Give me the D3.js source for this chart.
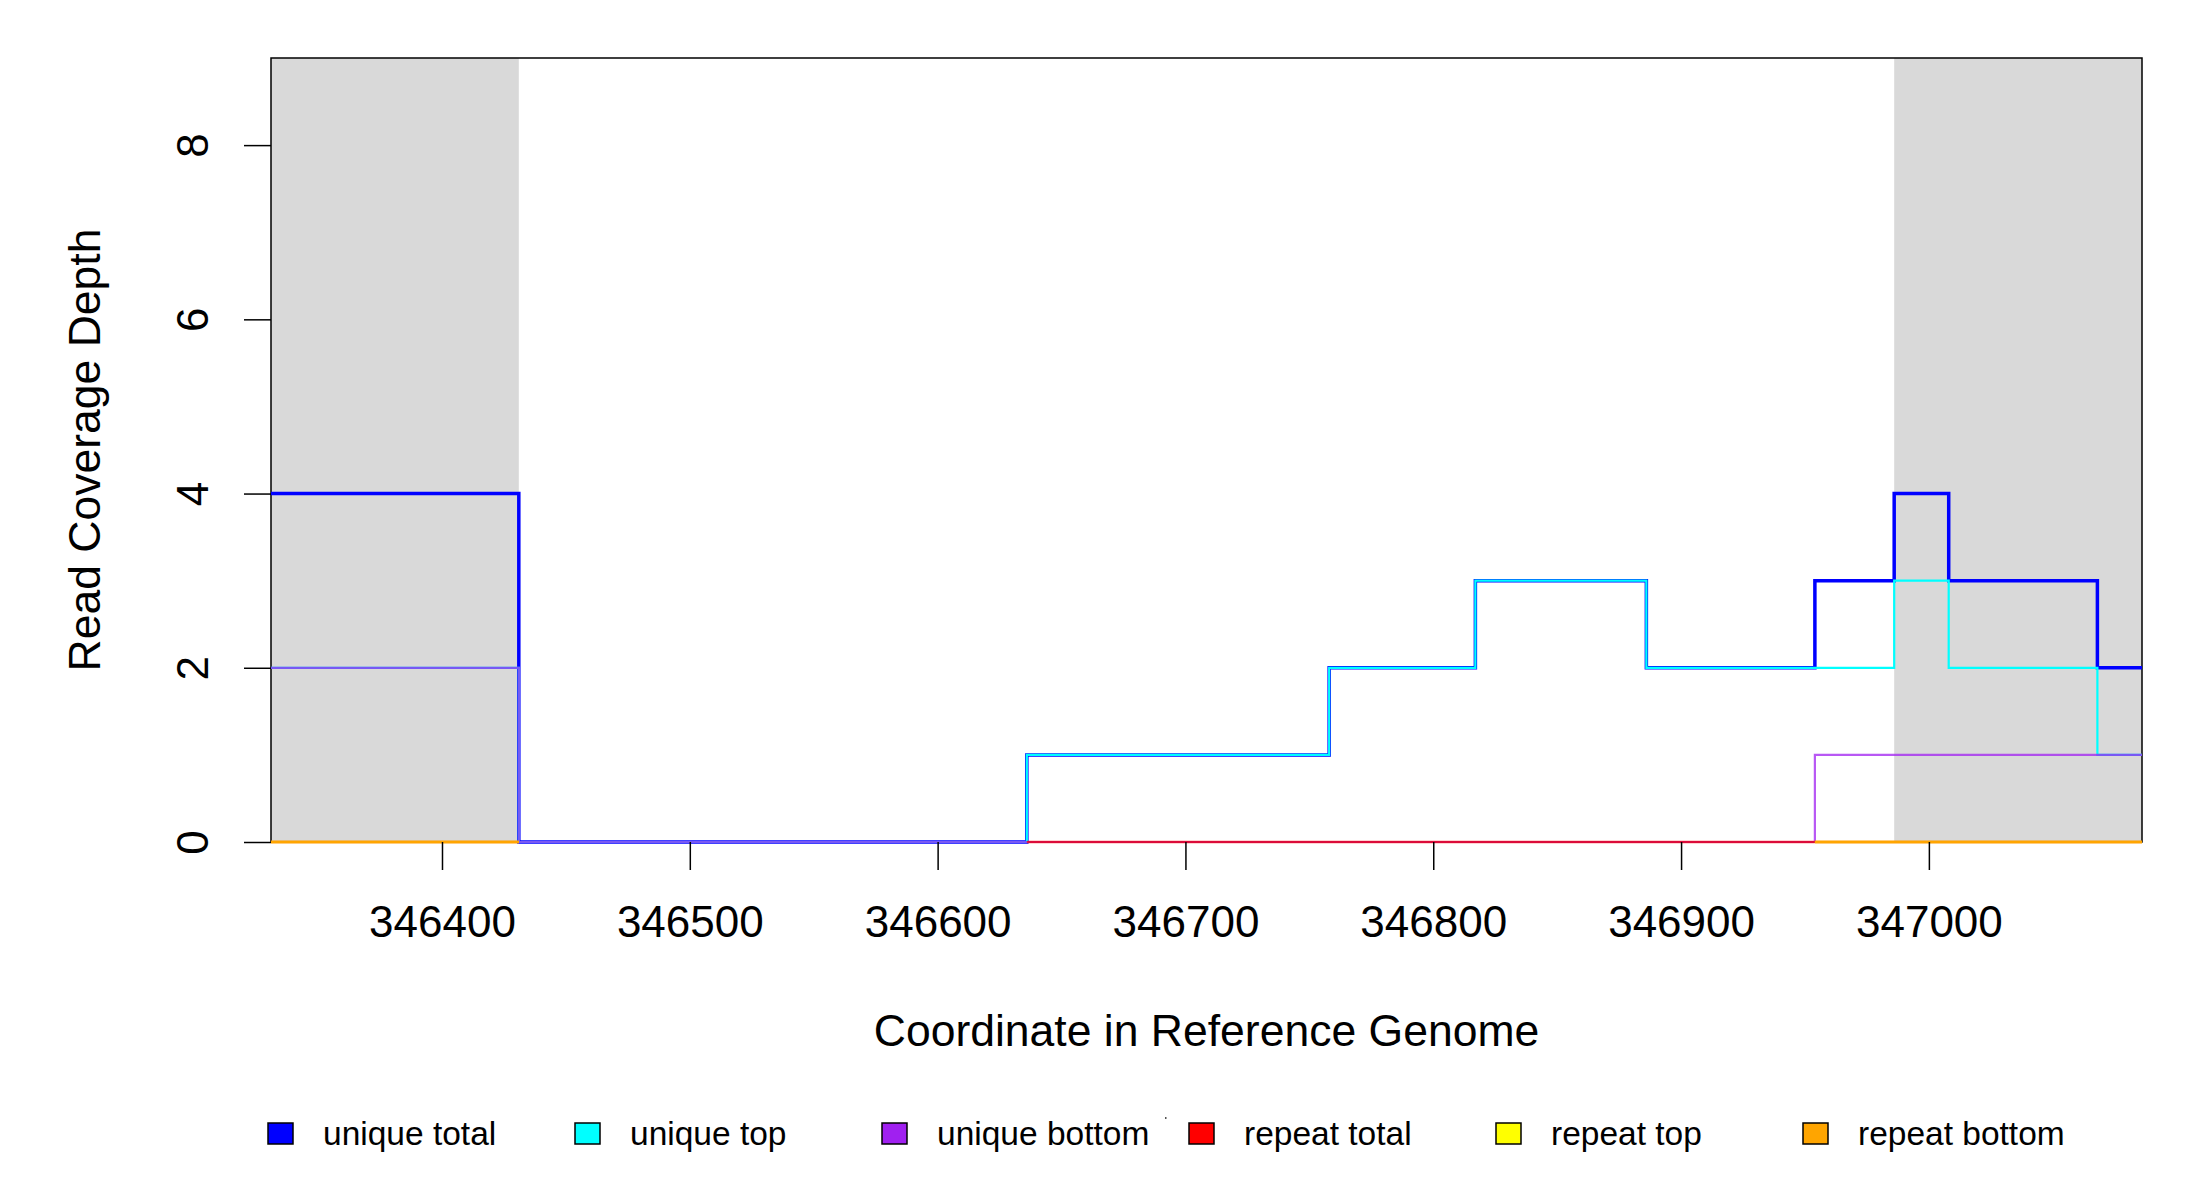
<!DOCTYPE html>
<html>
<head>
<meta charset="utf-8">
<script src="https://cdn.jsdelivr.net/npm/d3@7"></script>
<style>
  body { margin: 0; background: #ffffff; }
  text { font-family: "Liberation Sans", Arial, sans-serif; fill: #000000; }
</style>
</head>
<body>
<div id="chart"></div>
<script>
// step boundaries along the reference genome
const breaks = [346331, 346431, 346636, 346758, 346817, 346886, 346954, 346986, 347008, 347068, 347086];
// coverage depth per interval (null = not drawn)
const uniqueTotal  = [4, 0, 1, 2, 3, 2, 3, 4, 3, 2];
const uniqueTop    = [2, 0, 1, 2, 3, 2, 2, 3, 2, 1];
const uniqueBottom = [2, 0, 0, 0, 0, 0, 1, 1, 1, 1];
const repeatTotal  = [0, null, 0, 0, 0, 0, 0, 0, 0, 0];
const repeatTop    = [0, null, null, null, null, null, 0, 0, 0, 0];
const repeatBottom = [0, null, null, null, null, null, 0, 0, 0, 0];
// flanking regions shaded grey
const flanks = [[346331, 346431], [346986, 347086]];
const xTicks = [346400, 346500, 346600, 346700, 346800, 346900, 347000];
const yTicks = [0, 2, 4, 6, 8];
const seriesNames = ["unique total", "unique top", "unique bottom", "repeat total", "repeat top", "repeat bottom"];
const seriesColors = ["#0000ff", "#00ffff", "#a020f0", "#ff0000", "#ffff00", "#ffa500"];

const dims = { width: 2200, height: 1200, left: 271, right: 2142, top: 58, bottom: 842 };

const x = d3.scaleLinear().domain([346331, 347086]).range([dims.left, dims.right]);
const y = d3.scaleLinear().domain([0, 9]).range([dims.bottom, dims.top]);

const svg = d3.select("#chart").append("svg")
    .attr("width", dims.width)
    .attr("height", dims.height);

//grey flanks
svg.append("g").selectAll("rect")
    .data(flanks)
    .join("rect")
    .attr("x", d => x(d[0]))
    .attr("y", y(9))
    .attr("width", d => x(d[1]) - x(d[0]))
    .attr("height", y(0) - y(9))
    .style("fill", "#d9d9d9");

//box
svg.append("rect")
    .attr("x", dims.left)
    .attr("y", dims.top)
    .attr("width", dims.right - dims.left)
    .attr("height", dims.bottom - dims.top)
    .style("fill", "none")
    .style("stroke", "#000")
    .style("stroke-width", 1.5);

//turn interval values into step points
const stepPoints = (vals) => vals.flatMap((v, i) =>
    v == null ? [{ x: breaks[i], v: null }] : [{ x: breaks[i], v: v }, { x: breaks[i + 1], v: v }]);

const line = d3.line()
    .defined(d => d.v != null)
    .x(d => x(d.x))
    .y(d => y(d.v));

const series = [
    { vals: uniqueTotal, width: 3.5, opacity: 1 },
    { vals: uniqueTop, width: 2.2, opacity: 1 },
    { vals: uniqueBottom, width: 2.2, opacity: 0.75 },
    { vals: repeatTotal, width: 2.4, opacity: 0.7 },
    { vals: repeatTop, width: 2.4, opacity: 0.8 },
    { vals: repeatBottom, width: 2.4, opacity: 1 }
];

svg.append("g").selectAll("path")
    .data(series)
    .join("path")
    .attr("d", d => line(stepPoints(d.vals)))
    .style("fill", "none")
    .style("stroke", (d, i) => seriesColors[i])
    .style("stroke-width", d => d.width)
    .style("stroke-opacity", d => d.opacity)
    .style("stroke-linejoin", "miter");

//x axis
const xAxis = svg.append("g")
    .attr("transform", `translate(0, ${dims.bottom})`)
    .call(d3.axisBottom(x).tickValues(xTicks).tickFormat(d3.format("d")).tickSize(28).tickPadding(36));
xAxis.select(".domain").remove();
xAxis.selectAll("line").style("stroke", "#000").style("stroke-width", 1.5);
xAxis.selectAll("text")
    .style("font-family", "Liberation Sans, Arial, sans-serif")
    .style("font-size", "44px")
    .attr("dy", "0.71em");

//y axis
const yAxis = svg.append("g")
    .attr("transform", `translate(${dims.left}, 0)`)
    .call(d3.axisLeft(y).tickValues(yTicks).tickSize(27).tickFormat(d3.format("d")));
yAxis.select(".domain").remove();
yAxis.selectAll("line").style("stroke", "#000").style("stroke-width", 1.5);
yAxis.selectAll("text").remove();
yAxis.selectAll(".tick").append("text")
    .attr("transform", "translate(-63, 0) rotate(-90)")
    .attr("text-anchor", "middle")
    .style("font-size", "44px")
    .style("fill", "#000")
    .text(d => d);

//axis titles
svg.append("text")
    .attr("x", (dims.left + dims.right) / 2)
    .attr("y", 1046)
    .attr("text-anchor", "middle")
    .style("font-size", "44.5px")
    .text("Coordinate in Reference Genome");

svg.append("text")
    .attr("transform", `translate(100, ${(dims.top + dims.bottom) / 2}) rotate(-90)`)
    .attr("text-anchor", "middle")
    .style("font-size", "44.5px")
    .text("Read Coverage Depth");

//legend
const legend = svg.append("g")
    .attr("transform", "translate(268, 1123)");

const items = legend.selectAll("g")
    .data(seriesNames)
    .join("g")
    .attr("transform", (d, i) => `translate(${i * 307}, 0)`);

items.append("rect")
    .attr("width", 25)
    .attr("height", 21)
    .style("fill", (d, i) => seriesColors[i])
    .style("stroke", "#000")
    .style("stroke-width", 1.5);

items.append("text")
    .attr("x", 55)
    .attr("y", 22)
    .style("font-size", "33.5px")
    .text(d => d);

//small stray tick mark seen beside the third legend entry
legend.append("rect")
    .attr("x", 897)
    .attr("y", -6)
    .attr("width", 1.5)
    .attr("height", 2)
    .style("fill", "#555");
</script>
</body>
</html>
